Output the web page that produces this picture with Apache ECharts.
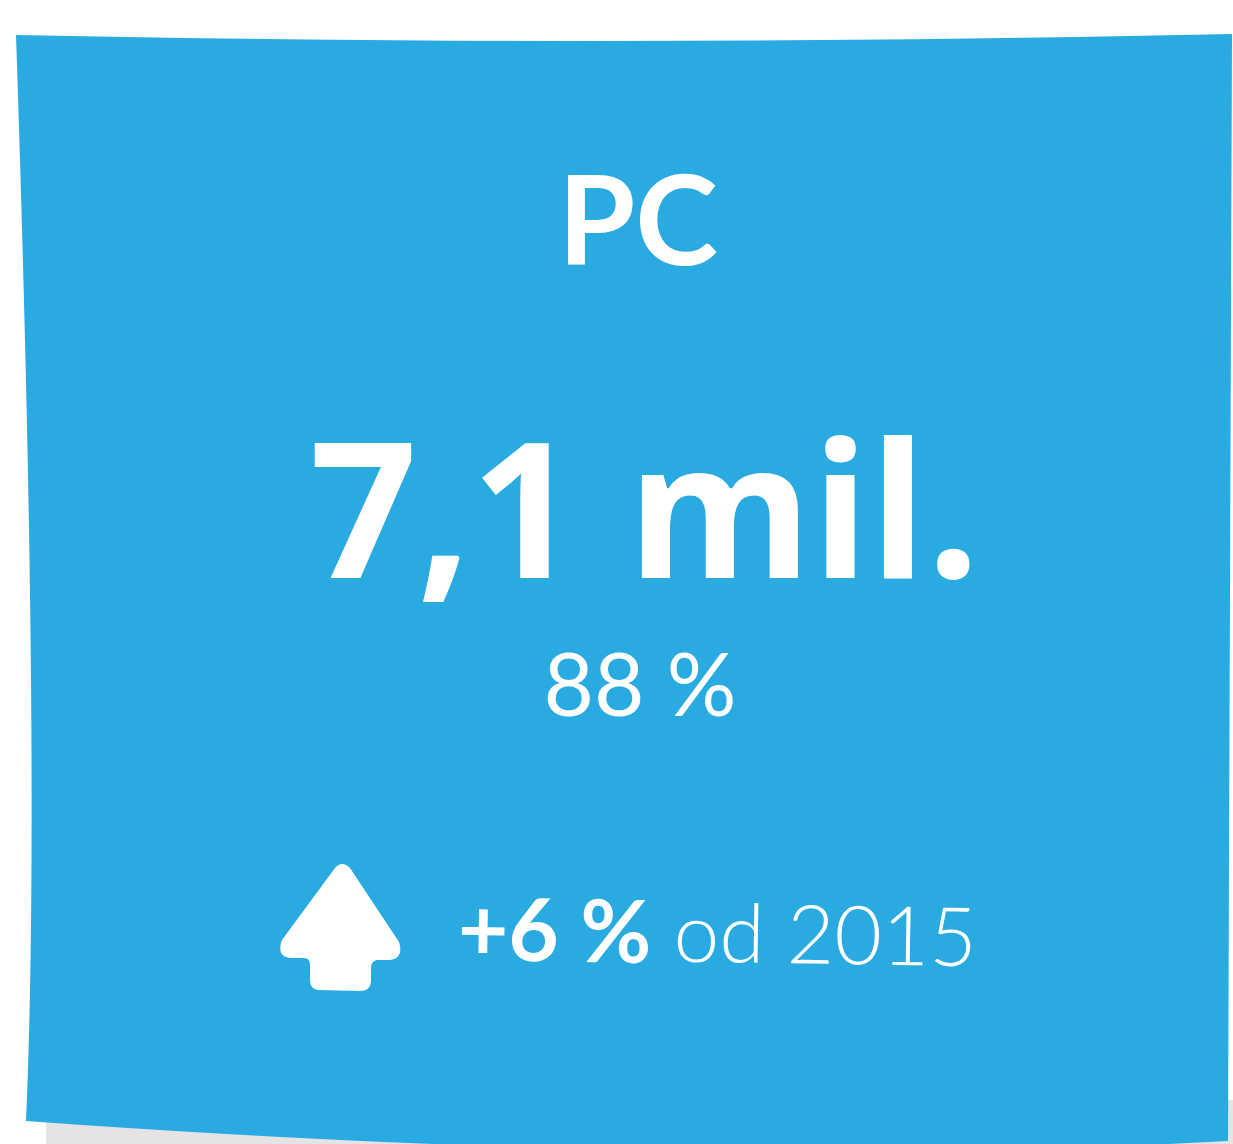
<!DOCTYPE html>
<html>
<head>
<meta charset="utf-8">
<script src="https://cdn.jsdelivr.net/npm/echarts@6/dist/echarts.min.js"></script>
<style>
html,body{margin:0;padding:0;background:#fff;}
#c{width:1233px;height:1144px;}
</style>
</head>
<body>
<div id="c"></div>
<script>
// Data
const category = 'PC';
const valueLabel = '7,1 mil.';
const shareLabel = '88 %';
const changeLabel = '+6 %';
const changeSince = 'od 2015';

const blue = '#29ABE2';
const font = 'Lato, "Open Sans", sans-serif';
const wideFont = '"Open Sans", Lato, sans-serif';

const CardShape = echarts.graphic.extendPath(
  'M16,35 Q620,47.5 1232,34 L1228,1141 Q700,1170 26,1121 Q41,780 16,35 Z', {});
const ArrowShape = echarts.graphic.extendPath(
  'M335,868 Q342,860 350,868 L399,942 Q404,958 390,960 L377,960 Q371,961 371,968 L371,982 Q370,991 360,991 L318,990 Q310,989 310,980 L310,965 Q310,958 304,958 L290,958 Q276,956 282,940 Z', {});
echarts.graphic.registerShape('cardShape', CardShape);
echarts.graphic.registerShape('arrowShape', ArrowShape);

const chart = echarts.init(document.getElementById('c'), null, {renderer: 'canvas'});

chart.setOption({
  backgroundColor: '#ffffff',
  graphic: [
    { type: 'polygon', z: 1,
      shape: { points: [[46, 1100], [1233, 1100], [1233, 1144], [46, 1144]] },
      style: { fill: '#e4e4e4' } },
    { type: 'cardShape', z: 2, style: { fill: blue } },
    { type: 'text', z: 5, x: 638, y: 225,
      style: { text: category, fontFamily: font, fontWeight: 'bold', fontSize: 125, fill: '#fff', align: 'center', verticalAlign: 'middle' } },
    { type: 'text', z: 5, x: 645, y: 524,
      style: { text: valueLabel, fontFamily: wideFont, fontWeight: 'bold', fontSize: 188, fill: '#fff', align: 'center', verticalAlign: 'middle' } },
    { type: 'text', z: 5, x: 640, y: 688,
      style: { text: shareLabel, fontFamily: font, fontWeight: 'normal', fontSize: 87, fill: '#fff', align: 'center', verticalAlign: 'middle' } },
    { type: 'arrowShape', z: 5, style: { fill: '#fff' } },
    { type: 'text', z: 5, x: 458, y: 932, rotation: -0.015,
      style: {
        text: '{b|' + changeLabel + '}{r| ' + changeSince + '}',
        fill: '#fff', align: 'left', verticalAlign: 'middle',
        rich: {
          b: { fontFamily: font, fontWeight: 'bold', fontSize: 87, fill: '#fff' },
          r: { fontFamily: font, fontWeight: 300, fontSize: 82, fill: '#fff' }
        }
      } }
  ]
});
</script>
</body>
</html>
